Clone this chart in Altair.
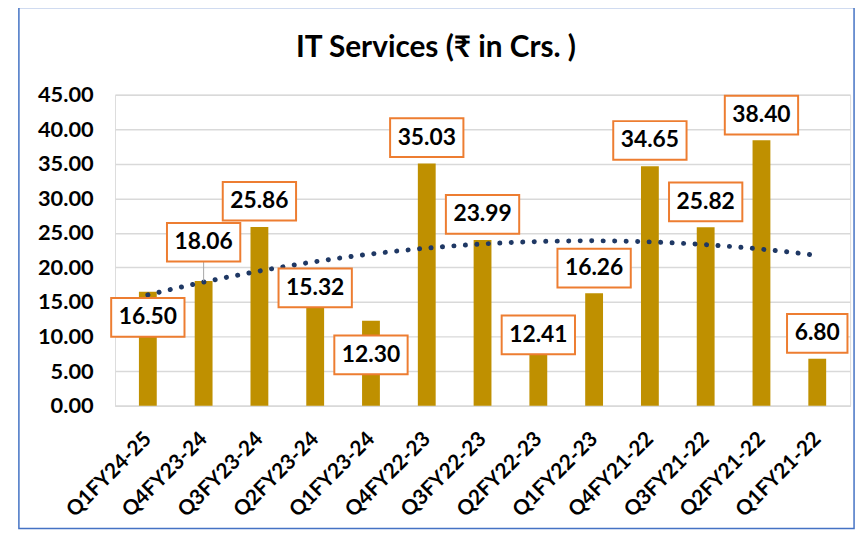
import altair as alt
import pandas as pd

quarters = ["Q1FY24-25", "Q4FY23-24", "Q3FY23-24", "Q2FY23-24", "Q1FY23-24",
            "Q4FY22-23", "Q3FY22-23", "Q2FY22-23", "Q1FY22-23", "Q4FY21-22",
            "Q3FY21-22", "Q2FY21-22", "Q1FY21-22"]
values = [16.50, 18.06, 25.86, 15.32, 12.30, 35.03, 23.99, 12.41, 16.26,
          34.65, 25.82, 38.40, 6.80]
# centre of each data-label callout, in data units
label_y = [12.77, 23.65, 29.58, 17.06, 7.37, 38.79, 27.67, 10.24, 19.90,
           38.37, 29.48, 42.03, 10.46]
y_ticks = [0, 5, 10, 15, 20, 25, 30, 35, 40, 45]
title_text = "IT Services (₹ in Crs. )"

n = len(quarters)
df = pd.DataFrame({
    "idx": list(range(n)),
    "quarter": quarters,
    "value": values,
    "label_y": label_y,
    "label": [f"{v:.2f}" for v in values],
})

FONT = "Lato"
BOX_HALF = 2.8  # half height of a callout box, data units

label_expr = "[" + ",".join(f"'{q}'" for q in quarters) + "][datum.value]"
x_scale = alt.Scale(domain=[-0.5, n - 0.5], nice=False, zero=False)
y_scale = alt.Scale(domain=[0, 45], nice=False, zero=True)

x_axis = alt.Axis(values=list(range(n)), labelExpr=label_expr,
                  labelAngle=315, labelAlign="right", labelBaseline="middle",
                  labelFont=FONT, labelFontSize=21, labelFontWeight="bold",
                  labelColor="#000000", labelPadding=30, ticks=False,
                  grid=False, domainColor="#D9D9D9", domainWidth=1.5,
                  labelOverlap=False, labelBound=False, labelFlush=False)
y_axis = alt.Axis(values=y_ticks, format=".2f", labelFont=FONT,
                  labelFontSize=22, labelFontWeight="bold",
                  labelColor="#000000", labelPadding=22, ticks=False,
                  domain=False, grid=True, gridColor="#D9D9D9",
                  gridWidth=1.5, labelOverlap=False, labelSeparation=0)


def X():
    return alt.X("idx:Q", scale=x_scale, title=None, axis=x_axis)


def Y(field):
    return alt.Y(field, scale=y_scale, title=None, axis=y_axis)


bars = alt.Chart(df).mark_bar(color="#BF9000", width=18).encode(
    x=X(), y=Y("value:Q"))

trend = alt.Chart(df).transform_regression(
    "idx", "value", method="poly", order=2, extent=[0, n - 1]
).mark_line(color="#1F3864", strokeWidth=5, strokeDash=[0.1, 11.5],
            strokeCap="round").encode(x=X(), y=Y("value:Q"))

base = alt.Chart(df).transform_calculate(
    lo=f"datum.label_y - {BOX_HALF}", hi=f"datum.label_y + {BOX_HALF}",
    gap=f"datum.label_y - {BOX_HALF} - datum.value",
)

leader = base.transform_filter("datum.gap > 2").mark_rule(
    color="#A6A6A6", strokeWidth=1).encode(x=X(), y=Y("value:Q"), y2="lo:Q")

box_wide = base.transform_filter("length(datum.label) == 5").mark_bar(
    width=74, fill="white", stroke="#ED7D31", strokeWidth=2).encode(
    x=X(), y=Y("lo:Q"), y2="hi:Q")

box_narrow = base.transform_filter("length(datum.label) == 4").mark_bar(
    width=61, fill="white", stroke="#ED7D31", strokeWidth=2).encode(
    x=X(), y=Y("lo:Q"), y2="hi:Q")

texts = alt.Chart(df).mark_text(font=FONT, fontSize=23, fontWeight="bold",
                                color="#000000", baseline="middle").encode(
    x=X(), y=Y("label_y:Q"), text="label:N")

one = pd.DataFrame({"a": [0]})
frame = alt.Chart(one).mark_rect(
    fill=None, stroke="#4472C4", strokeWidth=1.5).encode(
    x=alt.value(-97), x2=alt.value(746), y=alt.value(-88), y2=alt.value(438))

title = alt.Chart(one).mark_text(
    font=FONT, fontSize=30, fontWeight="bold", color="#000000",
    align="center", baseline="alphabetic").encode(
    x=alt.value(324), y=alt.value(-38), text=alt.value(title_text))

chart = alt.layer(frame, bars, trend, leader, box_wide, box_narrow, texts, title).properties(
    width=742, height=314,
    autosize=alt.AutoSizeParams(type="none"),
    padding={"left": 108, "top": 85, "right": 10, "bottom": 126},
).configure_view(stroke=None).configure_axis(labelOverlap=False).configure(font=FONT)

chart.save("out.html", embed_options={"renderer": "svg", "actions": False})
